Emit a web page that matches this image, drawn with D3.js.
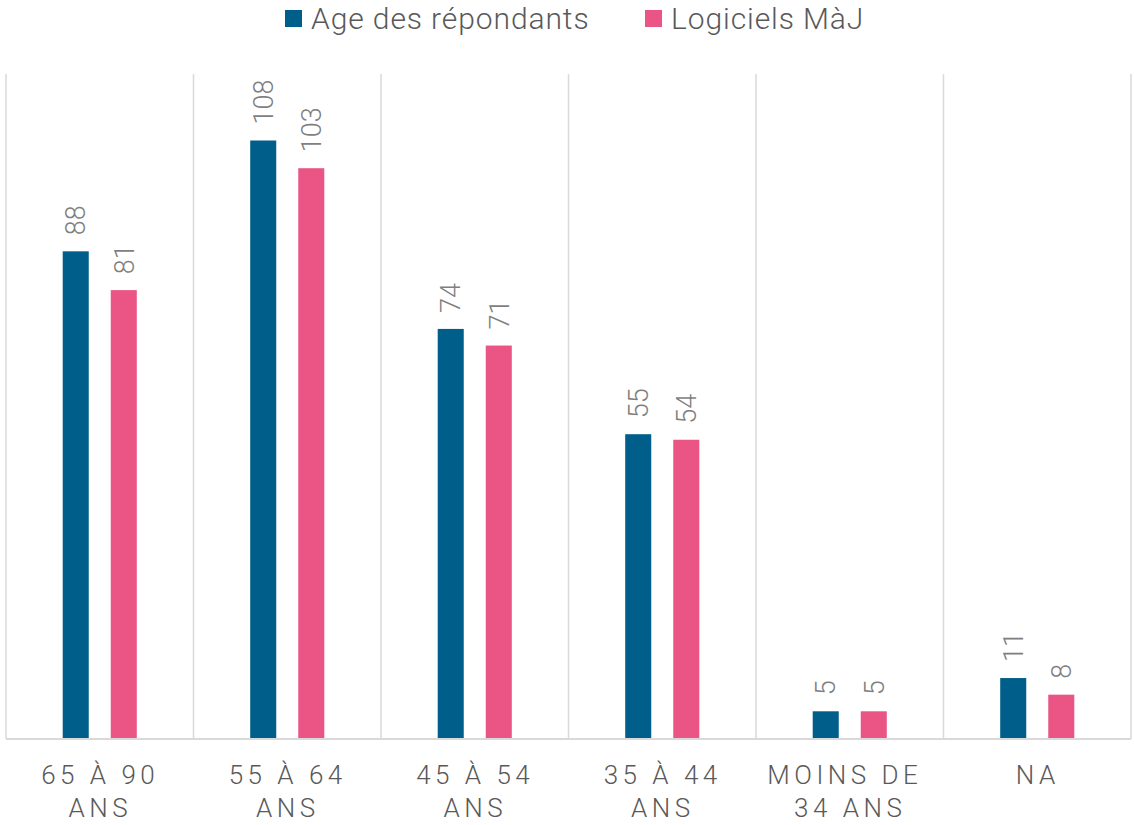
<!DOCTYPE html>
<html>
<head>
<meta charset="utf-8">
<script src="https://cdn.jsdelivr.net/npm/d3@7"></script>
<style>
  body { margin: 0; background: #fff; }
  svg { display: block; font-family: Roboto, "Noto Sans", sans-serif; font-weight: 300; }
</style>
</head>
<body>
<svg id="chart" width="1134" height="825"></svg>
<script>
// categories (line breaks as in the original chart)
var categories = ['65 À 90\nANS', '55 À 64\nANS', '45 À 54\nANS', '35 À 44\nANS', 'MOINS DE \n34 ANS', 'NA'];
var seriesNames = ['Age des répondants', 'Logiciels MàJ'];
var ageValues = [88, 108, 74, 55, 5, 11];
var majValues = [81, 103, 71, 54, 5, 8];
var colors = ['#005f8a', '#ea5586'];

var plotLeft = 6, plotRight = 1131, plotTop = 74, plotBottom = 739;

var svg = d3.select('#chart');

var x0 = d3.scaleBand()
    .domain(categories)
    .range([plotLeft, plotRight])
    .padding(0);

var x1 = d3.scaleBand()
    .domain(seriesNames)
    .range([0, x0.bandwidth()])
    .paddingInner(0.458)
    .paddingOuter(1.18);

var y = d3.scaleLinear()
    .domain([0, 120])
    .range([plotBottom, plotTop]);

// vertical separators between categories
var seps = categories.map(function(c) { return x0(c); }).concat([plotRight]);
svg.append('g').selectAll('line')
    .data(seps)
    .enter().append('line')
    .attr('x1', function(d) { return d; })
    .attr('x2', function(d) { return d; })
    .attr('y1', plotTop)
    .attr('y2', plotBottom)
    .attr('stroke', '#d9d9d9')
    .attr('stroke-width', 1.5);

var rows = categories.map(function(c, i) {
  return [
    { cat: c, name: seriesNames[0], value: ageValues[i] },
    { cat: c, name: seriesNames[1], value: majValues[i] }
  ];
});

var group = svg.append('g').selectAll('g')
    .data(rows)
    .enter().append('g')
    .attr('transform', function(d) { return 'translate(' + x0(d[0].cat) + ',0)'; });

group.selectAll('rect')
    .data(function(d) { return d; })
    .enter().append('rect')
    .attr('x', function(d) { return x1(d.name); })
    .attr('y', function(d) { return y(d.value); })
    .attr('width', x1.bandwidth())
    .attr('height', function(d) { return y(0) - y(d.value); })
    .attr('fill', function(d, i) { return colors[i]; });

// value labels, rotated
group.selectAll('text')
    .data(function(d) { return d; })
    .enter().append('text')
    .attr('transform', function(d) {
      return 'translate(' + (x1(d.name) + x1.bandwidth() / 2) + ',' + (y(d.value) - 16) + ') rotate(-90)';
    })
    .attr('dy', '0.36em')
    .attr('text-anchor', 'start')
    .attr('fill', '#7f7f7f')
    .style('font-size', '27px')
    .text(function(d) { return d.value; });

// baseline
svg.append('line')
    .attr('x1', plotLeft).attr('x2', plotRight)
    .attr('y1', y(0)).attr('y2', y(0))
    .attr('stroke', '#d9d9d9')
    .attr('stroke-width', 2);

// category labels
var xlab = svg.append('g').selectAll('text')
    .data(categories)
    .enter().append('text')
    .attr('y', 784)
    .attr('text-anchor', 'middle')
    .attr('fill', '#595959')
    .style('font-size', '26px')
    .style('letter-spacing', '4.5px')
    .style('white-space', 'pre');

xlab.selectAll('tspan')
    .data(function(d) { return d.split('\n'); })
    .enter().append('tspan')
    .attr('x', function() { var p = d3.select(this.parentNode).datum(); return x0(p) + x0.bandwidth() / 2 + 0.5; })
    .attr('dy', function(d, i) { return i === 0 ? 0 : 33; })
    .text(function(d) { return d; });

// legend
var legendX = [285, 645];
var legend = svg.append('g').selectAll('g')
    .data(seriesNames)
    .enter().append('g')
    .attr('transform', function(d, i) { return 'translate(' + legendX[i] + ',10)'; });

legend.append('rect')
    .attr('width', 17)
    .attr('height', 17)
    .attr('fill', function(d, i) { return colors[i]; });

legend.append('text')
    .attr('x', 26)
    .attr('y', 19)
    .attr('fill', '#595959')
    .style('font-size', '30px')
    .style('letter-spacing', '0.9px')
    .text(function(d) { return d; });
</script>
</body>
</html>
